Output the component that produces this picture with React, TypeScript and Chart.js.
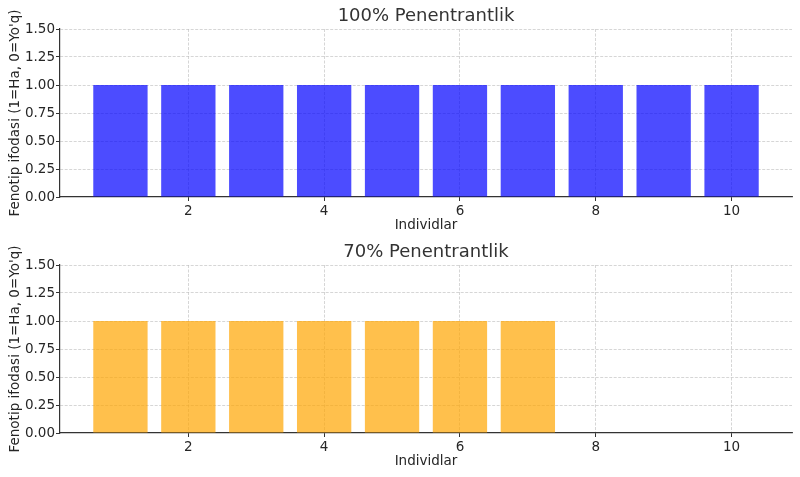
import React, { useEffect, useRef } from "react";
import { Chart, registerables } from "chart.js";

Chart.register(...registerables);

const individuals = [1, 2, 3, 4, 5, 6, 7, 8, 9, 10];
const phenotype100 = [1, 1, 1, 1, 1, 1, 1, 1, 1, 1];
const phenotype70 = [1, 1, 1, 1, 1, 1, 1, 0, 0, 0];
const xTickValues = [2, 4, 6, 8, 10];
const title100 = "100% Penentrantlik";
const title70 = "70% Penentrantlik";
const xLabel = "Individlar";
const yLabel = "Fenotip ifodasi (1=Ha, 0=Yo'q)";

const FONT = '"DejaVu Sans", sans-serif';
const GRID = "rgba(190,190,190,0.8)";
const AXIS = "#333";
const TEXT = "#262626";
const FS = 13.5;

const titlePlugin = {
  id: "axTitle",
  afterDraw(chart: any, _args: any, opts: any) {
    const { ctx, chartArea } = chart;
    ctx.save();
    ctx.font = `18px ${FONT}`;
    ctx.fillStyle = "#333";
    ctx.textAlign = "center";
    ctx.textBaseline = "middle";
    ctx.fillText(opts.text, (chartArea.left + chartArea.right) / 2, opts.y);
    ctx.restore();
  },
};

function BarPanel({ values, color, title }: { values: number[]; color: string; title: string }) {
  const ref = useRef<HTMLCanvasElement>(null);
  useEffect(() => {
    if (!ref.current) return;
    const chart = new Chart(ref.current, {
      type: "bar",
      data: {
        datasets: [
          {
            data: individuals.map((x, i) => ({ x, y: values[i] })),
            backgroundColor: color,
            borderWidth: 0,
            barPercentage: 0.8,
            categoryPercentage: 1,
          },
        ],
      },
      plugins: [titlePlugin],
      options: {
        animation: false,
        responsive: false,
        layout: { padding: { top: 29, right: 8, left: 0, bottom: 0 } },
        plugins: {
          legend: { display: false },
          tooltip: { enabled: false },
          axTitle: { text: title, y: 16 },
        } as any,
        scales: {
          x: {
            type: "linear",
            offset: false,
            min: 0.11,
            max: 10.89,
            afterBuildTicks: (scale: any) => {
              scale.ticks = xTickValues.map((v) => ({ value: v }));
            },
            afterFit: (scale: any) => {
              scale.height = 39;
            },
            ticks: {
              font: { family: FONT, size: FS },
              color: TEXT,
              padding: 2,
              maxRotation: 0,
              autoSkip: false,
              callback: (v: any) => String(v),
            },
            grid: {
              offset: false,
              color: GRID,
              lineWidth: 0.8,
              drawTicks: true,
              tickLength: 4,
              tickColor: AXIS,
              tickWidth: 1,
            },
            border: { display: true, color: AXIS, width: 1.2, dash: [3, 1.5] },
            title: {
              display: true,
              text: xLabel,
              font: { family: FONT, size: FS },
              color: TEXT,
              padding: { top: 0, bottom: 2 },
            },
          },
          y: {
            min: 0,
            max: 1.5,
            afterFit: (scale: any) => {
              scale.width = 60;
            },
            ticks: {
              stepSize: 0.25,
              font: { family: FONT, size: FS },
              color: TEXT,
              padding: 1,
              callback: (v: any) => Number(v).toFixed(2),
            },
            grid: {
              color: (c: any) => (c.tick && c.tick.value === 0 ? "rgba(0,0,0,0)" : GRID),
              lineWidth: 0.8,
              drawTicks: true,
              tickLength: 4,
              tickColor: AXIS,
              tickWidth: 1,
            },
            border: { display: true, color: AXIS, width: 1.2, dash: [3, 1.5] },
            title: {
              display: true,
              text: yLabel,
              font: { family: FONT, size: FS },
              color: TEXT,
              padding: { top: 7, bottom: 0 },
            },
          },
        },
      } as any,
    });
    return () => chart.destroy();
  }, [values, color, title]);
  return <canvas ref={ref} width={800} height={236} style={{ display: "block", width: 800, height: 236 }} />;
}

export default function App() {
  return (
    <div style={{ position: "absolute", left: 0, top: 0, width: 800, height: 477, background: "#fff" }}>
      <BarPanel values={phenotype100} color="rgba(0,0,255,0.7)" title={title100} />
      <BarPanel values={phenotype70} color="rgba(255,165,0,0.7)" title={title70} />
    </div>
  );
}
